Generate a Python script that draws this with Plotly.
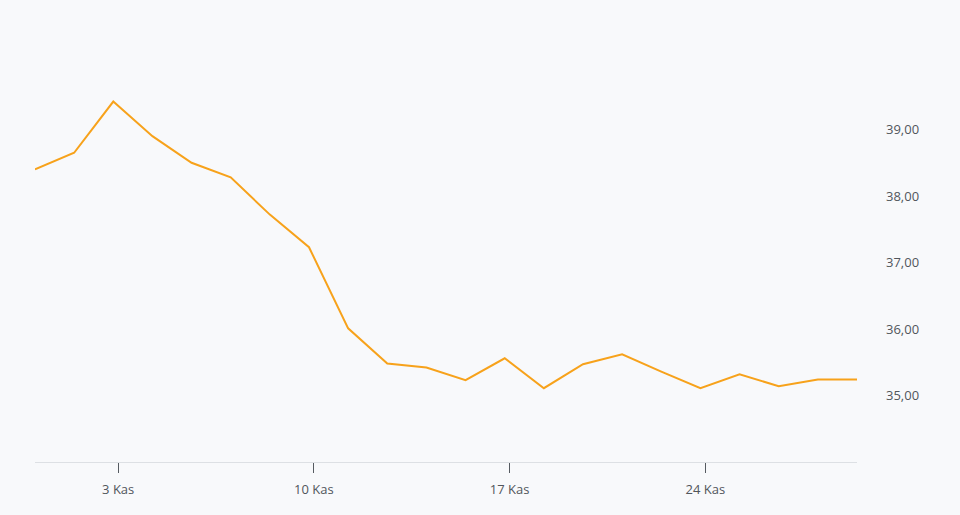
import plotly.graph_objects as go

dates = ["2023-11-01", "2023-11-02", "2023-11-03", "2023-11-06", "2023-11-07", "2023-11-08",
         "2023-11-09", "2023-11-10", "2023-11-13", "2023-11-14", "2023-11-15", "2023-11-16",
         "2023-11-17", "2023-11-20", "2023-11-21", "2023-11-22", "2023-11-23", "2023-11-24",
         "2023-11-27", "2023-11-28", "2023-11-29", "2023-11-30"]
values = [38.40, 38.65, 39.42, 38.90, 38.50, 38.28, 37.72, 37.23, 36.01, 35.48, 35.42, 35.23,
          35.56, 35.11, 35.47, 35.62, 35.36, 35.11, 35.32, 35.14, 35.24, 35.24]
tick_dates = ["2023-11-03 03:00", "2023-11-10 03:00", "2023-11-17 03:00", "2023-11-24 03:00"]
tick_labels = ["3 Kas", "10 Kas", "17 Kas", "24 Kas"]
y_ticks = [35, 36, 37, 38, 39]

fig = go.Figure(go.Scatter(x=dates, y=values, mode="lines",
                           line=dict(color="#f7a21b", width=2)))
fig.update_layout(
    width=960, height=515,
    paper_bgcolor="#f8f9fb", plot_bgcolor="#f8f9fb",
    margin=dict(l=35, r=103, t=63, b=53),
    separators=",.",
    showlegend=False,
    font=dict(family="Open Sans", size=13, color="#51565c"),
)
fig.update_xaxes(
    range=[dates[0], dates[-1]],
    rangebreaks=[dict(bounds=["sat", "mon"])],
    tickvals=tick_dates, ticktext=tick_labels,
    showgrid=False, zeroline=False,
    showline=True, linecolor="#dde0e4", linewidth=1,
    ticks="outside", ticklen=10, tickcolor="#555a60", tickwidth=1,
    ticklabelstandoff=5,
)
fig.update_yaxes(
    side="right", range=[34, 40], tickvals=y_ticks, tickformat=".2f",
    showgrid=False, zeroline=False, showline=False, ticks="",
    ticklabelstandoff=28,
)
fig.write_html("out.html", config={"displayModeBar": False},
               post_script="document.body.style.margin='0';document.body.style.background='#f8f9fb';")
